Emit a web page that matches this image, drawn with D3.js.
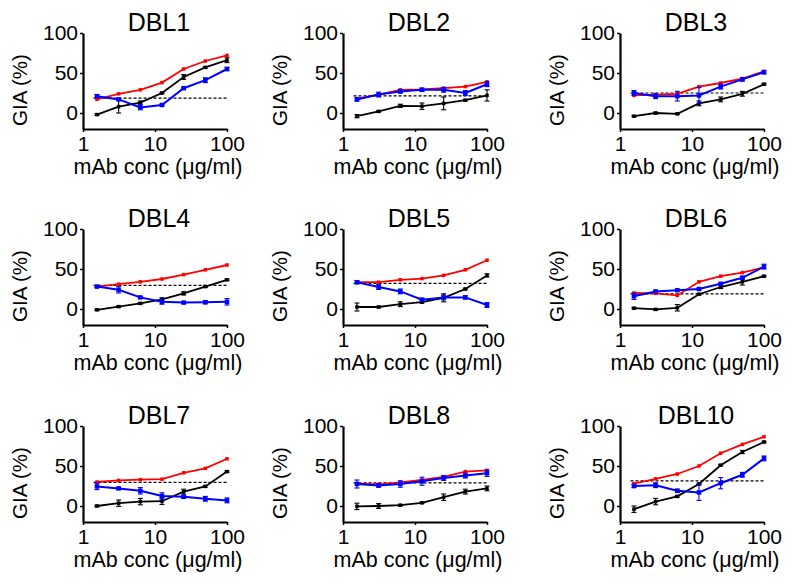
<!DOCTYPE html>
<html><head><meta charset="utf-8">
<script src="https://cdn.jsdelivr.net/npm/d3@7"></script>
<style>
body{margin:0;background:#fff;}
svg{display:block;}
text{font-family:"Liberation Sans",Arial,Helvetica,sans-serif;fill:#000;}
</style></head>
<body><svg id="c" width="800" height="584"></svg>
<script>
// ---- data ----
const panels = ["DBL1","DBL2","DBL3","DBL4","DBL5","DBL6","DBL7","DBL8","DBL10"];
const conc = [1.5625, 3.125, 6.25, 12.5, 25, 50, 100];
const xTicks = [1, 10, 100];
const yTicks = [0, 50, 100];
const thresholds = [18.5, 21.5, 25, 29.5, 32, 19, 29.5, 29, 31.5];
const redVals = [
  [17,24,29,38,55,65,72],
  [18,23,29,29.5,31,33,39],
  [22,23,24,33,37.5,43,52],
  [28,31,34,37.5,43,49,55],
  [33.5,33.5,36.5,38,42,49,61],
  [20,19.5,17,34,41,45.5,52],
  [30,32,33,33.5,41.5,47,59],
  [28,27,29.5,32.5,36.5,43,44.5],
  [28,34,40,50,66,77,86.5]
];
const blackVals = [
  [-2,8,13,25,45,57,66],
  [-4,2,9,8.5,12,16,22],
  [-4,0,-1,12,17,24,36],
  [-1,3,7,12,19.5,28,36.5],
  [2.5,2.5,6,8.5,14,25,42],
  [1,-0.5,1.5,18.5,27.5,34,41],
  [0,3.5,5.5,6,18,24.5,43],
  [-0.5,0,1,4,11,18,22],
  [-4,5.5,12,27.5,51,67.5,80]
];
const blackErr = [
  [1,8,2,1,3,1,3],
  [2,1,2,4,8,1,7],
  [1,1,1,3,3,3,1],
  [1,1,1,2,2,1,1],
  [5,1,3,1,5,1,2],
  [1,1,4,1,2,4,1],
  [1,4,4,4,3,1,1],
  [4,3,1,1,4,3,3],
  [4,4,1,1,1,2,1]
];
const blueVals = [
  [21,17,7,10,31,41,55],
  [17,23,27,29,29,25,36],
  [25,21,21,22,33,42,51],
  [28,24,14.5,9,8,8.5,9],
  [33.5,27.5,22,11.5,14.5,14.5,5],
  [16,22,23.5,25,31.5,39,53],
  [24.5,22,19,12.5,11.5,9,7],
  [27.5,25.5,27.5,31,35,38,41],
  [25,26,19,17,28.5,39,59.5]
];
const blueErr = [
  [2,1,3,1,1,3,2],
  [2,3,2,2,3,3,3],
  [3,3,6,10,3,2,2],
  [1,4,1,3,1,2,4],
  [2,3,3,2,3,2,3],
  [4,1,1,1,1,2,3],
  [4,1,4,4,2,3,3],
  [5,2,4,5,3,3,4],
  [2,3,2,10,7,3,3]
];

// ---- layout ----
const colX = [83, 343, 620];
const rowTop = [33, 229, 426];
const W = 144, H = 96;

const svg = d3.select("#c");

panels.forEach((name, i) => {
  const x0 = colX[i % 3], y0 = rowTop[Math.floor(i / 3)];
  const x = d3.scaleLog().domain([1, 100]).range([x0, x0 + W]);
  const y = d3.scaleLinear().domain([-20, 100]).range([y0 + H, y0]);
  const g = svg.append("g");

  // axes
  const xa = g.append("g").attr("transform", `translate(0,${y0 + H})`)
    .call(d3.axisBottom(x).tickValues(xTicks).tickFormat(d3.format("d")).tickSize(3).tickSizeOuter(0).tickPadding(4));
  const ya = g.append("g").attr("transform", `translate(${x0},0)`)
    .call(d3.axisLeft(y).tickValues(yTicks).tickSize(3).tickSizeOuter(0).tickPadding(2));
  [xa, ya].forEach(a => {
    a.select(".domain").attr("stroke", "#000").attr("stroke-width", 2.2);
    a.selectAll(".tick line").attr("stroke", "#000").attr("stroke-width", 1.5);
    a.selectAll("text").style("font-size", "21px").attr("fill", "#000");
    a.attr("font-family", null);
  });

  // title & labels
  g.append("text").attr("x", x0 + W / 2 + 4).attr("y", y0 - 2)
    .attr("text-anchor", "middle").style("font-size", "25px").text(name);
  g.append("text").attr("x", x0 + W / 2 + 3).attr("y", y0 + H + 45)
    .attr("text-anchor", "middle").style("font-size", "21.5px").text("mAb conc (μg/ml)");
  g.append("text").attr("transform", `translate(${x0 - 56},${y0 + H / 2 + 9}) rotate(-90)`)
    .attr("text-anchor", "middle").style("font-size", "20.5px").text("GIA (%)");

  // threshold
  g.append("line").attr("x1", x(1.4)).attr("x2", x(100))
    .attr("y1", y(thresholds[i])).attr("y2", y(thresholds[i]))
    .attr("stroke", "#000").attr("stroke-width", 1.2).attr("stroke-dasharray", "3,2");

  const line = d3.line().x((d, j) => x(conc[j])).y(d => y(d));

  function series(vals, errs, color, lw, ms) {
    const s = g.append("g");
    if (errs) {
      vals.forEach((v, j) => {
        const e = errs[j], cx = x(conc[j]);
        s.append("line").attr("x1", cx).attr("x2", cx).attr("y1", y(v - e)).attr("y2", y(v + e))
          .attr("stroke", color).attr("stroke-width", 1.1);
        [v - e, v + e].forEach(t => s.append("line").attr("x1", cx - 2.5).attr("x2", cx + 2.5)
          .attr("y1", y(t)).attr("y2", y(t)).attr("stroke", color).attr("stroke-width", 1.1));
      });
    }
    s.append("path").attr("d", line(vals)).attr("fill", "none").attr("stroke", color).attr("stroke-width", lw);
    s.selectAll("rect").data(vals).enter().append("rect")
      .attr("x", (d, j) => x(conc[j]) - ms / 2).attr("y", d => y(d) - ms / 2)
      .attr("width", ms).attr("height", ms).attr("fill", color);
  }
  series(redVals[i], null, "#ff0000", 1.8, 3.5);
  series(blackVals[i], blackErr[i], "#000000", 1.8, 3.5);
  series(blueVals[i], blueErr[i], "#0000ff", 2, 4.5);
});
</script></body></html>
